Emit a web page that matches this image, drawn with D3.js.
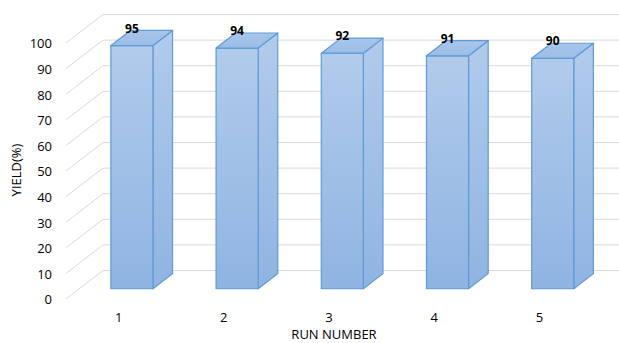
<!DOCTYPE html>
<html>
<head>
<meta charset="utf-8">
<script src="https://cdn.jsdelivr.net/npm/d3@7"></script>
<style>
  html, body { margin: 0; padding: 0; background: #fff; }
  svg { display: block; font-family: "Open Sans", "Noto Sans", sans-serif; }
</style>
</head>
<body>
<svg id="chart" width="619" height="343"></svg>
<script>
// Yield of each run
const runs = ["1", "2", "3", "4", "5"];
const yieldValues = [95, 94, 92, 91, 90];
const yTicks = [0, 10, 20, 30, 40, 50, 60, 70, 80, 90, 100];

const W = 619, H = 343;
const svg = d3.select("#chart");

// Front plane of the 3D box and its depth vector
const left = 66, right = 592;
const depth = { dx: 37, dy: -28.5 };
const barFront = 0.36, barBack = 0.89;   // depth fractions of the bar faces

const x = d3.scaleBand().domain(runs).range([left, right])
  .paddingInner(0.6).paddingOuter(0.3);
const y = d3.scaleLinear().domain([0, 100]).range([299, 43]);

const off = f => ({ dx: depth.dx * f, dy: depth.dy * f });

// Gradients for the bar faces
const defs = svg.append("defs");
function grad(id, c0, c1) {
  const g = defs.append("linearGradient").attr("id", id)
    .attr("x1", 0).attr("y1", 0).attr("x2", 0).attr("y2", 1);
  g.append("stop").attr("offset", "0%").attr("stop-color", c0);
  g.append("stop").attr("offset", "100%").attr("stop-color", c1);
}
grad("gFront", "#b1cbeb", "#8fb4e2");
grad("gSide", "#b1cbeb", "#8fb4e2");
grad("gTop", "#a9c5ea", "#9bbde6");

// Grid: side-wall diagonals and back-wall horizontals
const grid = svg.append("g").attr("stroke", "#d9d9d9").attr("stroke-width", 1).attr("fill", "none");
yTicks.forEach(v => {
  const y0 = y(v), y1 = y(v) + depth.dy;
  grid.append("line").attr("x1", left).attr("y1", y0)
    .attr("x2", left + depth.dx).attr("y2", y1);
  grid.append("line").attr("x1", left + depth.dx).attr("y1", y1)
    .attr("x2", W).attr("y2", y1);
});

// Y tick labels
svg.append("g").selectAll("text").data(yTicks).join("text")
  .attr("x", 52).attr("y", d => y(d) + 2)
  .attr("text-anchor", "end").attr("dominant-baseline", "middle")
  .attr("font-size", 13).attr("fill", "#000")
  .text(d => d);

// Bars as boxes
const bars = svg.append("g").attr("stroke", "#5f9bd6").attr("stroke-width", 1.2)
  .attr("stroke-linejoin", "round");
runs.forEach((r, i) => {
  const v = yieldValues[i];
  const f = off(barFront), b = off(barBack);
  const x0 = x(r) + f.dx, x1 = x0 + x.bandwidth();
  const yb = y(0) + f.dy, yt = y(v) + f.dy;
  const ddx = b.dx - f.dx, ddy = b.dy - f.dy;
  const g = bars.append("g");
  // side
  g.append("path").attr("fill", "url(#gSide)")
    .attr("d", `M${x1},${yt}L${x1 + ddx},${yt + ddy}L${x1 + ddx},${yb + ddy}L${x1},${yb}Z`);
  // front
  g.append("path").attr("fill", "url(#gFront)")
    .attr("d", `M${x0},${yt}L${x1},${yt}L${x1},${yb}L${x0},${yb}Z`);
  // top
  g.append("path").attr("fill", "url(#gTop)")
    .attr("d", `M${x0},${yt}L${x0 + ddx},${yt + ddy}L${x1 + ddx},${yt + ddy}L${x1},${yt}Z`);
});

// Value labels
svg.append("g").selectAll("text").data(runs).join("text")
  .attr("x", (d, i) => x(d) + off(barFront).dx + x.bandwidth() / 2)
  .attr("y", (d, i) => y(yieldValues[i]) + off(barBack).dy - 1)
  .attr("text-anchor", "middle").attr("dominant-baseline", "middle")
  .attr("font-size", 12).attr("font-weight", "bold").attr("fill", "#000")
  .text((d, i) => yieldValues[i]);

// X tick labels
svg.append("g").selectAll("text").data(runs).join("text")
  .attr("x", d => x(d) + x.bandwidth() / 2)
  .attr("y", 322)
  .attr("text-anchor", "middle")
  .attr("font-size", 13).attr("fill", "#000")
  .text(d => d);

// Axis titles
svg.append("text").attr("x", 334).attr("y", 339)
  .attr("text-anchor", "middle").attr("font-size", 13).attr("fill", "#000")
  .text("RUN NUMBER");
svg.append("text").attr("transform", "translate(21,170) rotate(-90)")
  .attr("text-anchor", "middle").attr("font-size", 13).attr("fill", "#000")
  .text("YIELD(%)");
</script>
</body>
</html>
